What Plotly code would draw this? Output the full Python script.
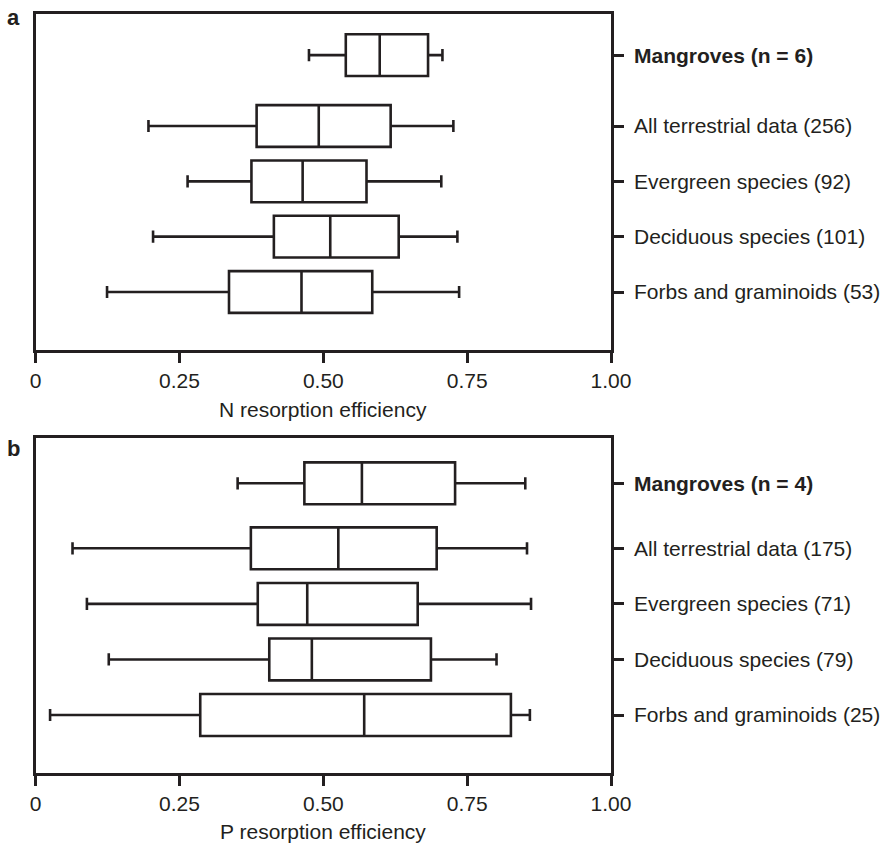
import plotly.graph_objects as go

# Groups, listed bottom-to-top as they appear on the y axis
groups_n = ["Forbs and graminoids (53)", "Deciduous species (101)",
            "Evergreen species (92)", "All terrestrial data (256)",
            "<b>Mangroves (n = 6)</b>"]
groups_p = ["Forbs and graminoids (25)", "Deciduous species (79)",
            "Evergreen species (71)", "All terrestrial data (175)",
            "<b>Mangroves (n = 4)</b>"]

# N resorption efficiency: five-number summaries
n_low = [0.124, 0.204, 0.264, 0.196, 0.475]
n_q1 = [0.336, 0.414, 0.375, 0.384, 0.539]
n_med = [0.462, 0.512, 0.464, 0.492, 0.598]
n_q3 = [0.585, 0.631, 0.575, 0.617, 0.682]
n_high = [0.736, 0.733, 0.705, 0.726, 0.707]

# P resorption efficiency: five-number summaries
p_low = [0.025, 0.127, 0.089, 0.064, 0.351]
p_q1 = [0.286, 0.406, 0.386, 0.374, 0.467]
p_med = [0.571, 0.480, 0.472, 0.526, 0.567]
p_q3 = [0.826, 0.687, 0.664, 0.697, 0.729]
p_high = [0.859, 0.801, 0.861, 0.854, 0.851]

x_ticks = [0, 0.25, 0.5, 0.75, 1.0]
x_ticktext = ["0", "0.25", "0.50", "0.75", "1.00"]

# Row positions on each y axis (mangroves sit a little apart from the rest)
rows_a = [1, 2, 3, 4, 5.28]
rows_b = [1, 2, 3, 4, 5.17]

INK = "#231f20"
FONT = "Liberation Sans, Arial, Helvetica, sans-serif"
W, H = 890, 843

fig = go.Figure()


def add_panel(rows, low, q1, med, q3, high, xa, ya):
    fig.add_trace(go.Box(
        orientation="h",
        y=rows, q1=q1, median=med, q3=q3,
        lowerfence=low, upperfence=high,
        width=0.754, whiskerwidth=0.29,
        fillcolor="white",
        line=dict(color=INK, width=2.6),
        boxpoints=False, hoverinfo="skip",
        xaxis=xa, yaxis=ya, showlegend=False,
    ))


add_panel(rows_a, n_low, n_q1, n_med, n_q3, n_high, "x", "y")
add_panel(rows_b, p_low, p_q1, p_med, p_q3, p_high, "x2", "y2")

x_dom = [35.7 / W, 611 / W]


def xaxis_cfg(anchor):
    return dict(
        domain=x_dom, range=[0, 1], anchor=anchor,
        tickvals=x_ticks, ticktext=x_ticktext,
        ticks="outside", ticklen=10, tickwidth=2.5, tickcolor=INK,
        showline=True, linecolor=INK, linewidth=2.6, mirror=True,
        showgrid=False, zeroline=False, automargin=False,
        tickfont=dict(family=FONT, size=21, color=INK),
    )


def yaxis_cfg(anchor, dom, rng, labels, rows):
    return dict(
        domain=dom, range=rng, anchor=anchor, side="right",
        tickvals=rows, ticktext=labels,
        ticks="outside", ticklen=10, tickwidth=2.5, tickcolor=INK,
        ticklabelstandoff=6,
        showline=True, linecolor=INK, linewidth=2.6, mirror=True,
        showgrid=False, zeroline=False, automargin=False,
        tickfont=dict(family=FONT, size=21, color=INK),
    )


fig.update_layout(
    width=W, height=H,
    margin=dict(l=0, r=0, t=0, b=0),
    paper_bgcolor="white", plot_bgcolor="white",
    font=dict(family=FONT, size=21, color=INK),
    xaxis=xaxis_cfg("y"),
    yaxis=yaxis_cfg("x", [1 - 350 / H, 1 - 13.5 / H], [-0.048, 6.033],
                    groups_n, rows_a),
    xaxis2=xaxis_cfg("y2"),
    yaxis2=yaxis_cfg("x2", [1 - 773.3 / H, 1 - 438.3 / H], [-0.049, 5.98],
                     groups_p, rows_b),
    annotations=[
        dict(text="<b>a</b>", x=13.5 / W, y=1 - 17.8 / H, xref="paper", yref="paper",
             showarrow=False, xanchor="center", yanchor="middle",
             font=dict(family=FONT, size=22, color=INK)),
        dict(text="<b>b</b>", x=13.5 / W, y=1 - 448.7 / H, xref="paper", yref="paper",
             showarrow=False, xanchor="center", yanchor="middle",
             font=dict(family=FONT, size=22, color=INK)),
        dict(text="N resorption efficiency", x=323.4 / W, y=1 - 409.4 / H,
             xref="paper", yref="paper", showarrow=False,
             xanchor="center", yanchor="middle",
             font=dict(family=FONT, size=21, color=INK)),
        dict(text="P resorption efficiency", x=323.4 / W, y=1 - 831 / H,
             xref="paper", yref="paper", showarrow=False,
             xanchor="center", yanchor="middle",
             font=dict(family=FONT, size=21, color=INK)),
    ],
)

fig.write_html("out.html")
